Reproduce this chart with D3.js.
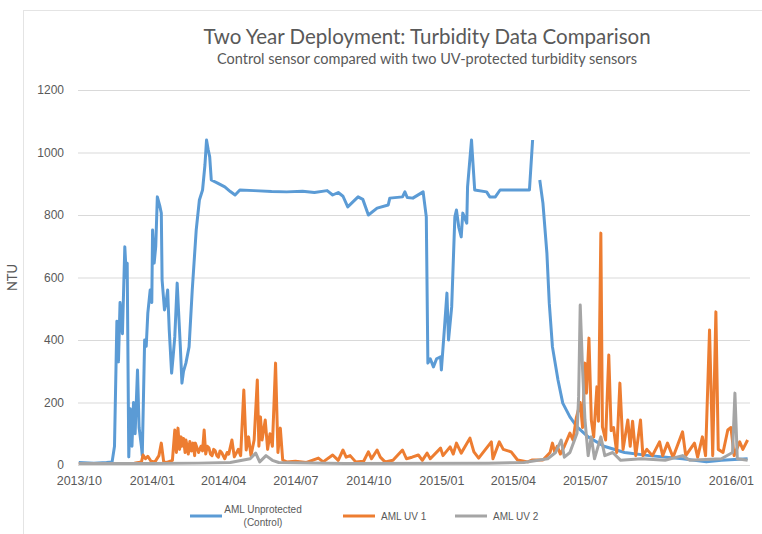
<!DOCTYPE html>
<html>
<head>
<meta charset="utf-8">
<script src="https://cdn.jsdelivr.net/npm/d3@7"></script>
<style>
  body { margin: 0; background: #fff; }
  text { fill: #595959; }
</style>
</head>
<body>
<div id="chart"></div>
<script>
const WIDTH = 762;
const HEIGHT = 534;

const yTicks = [0, 200, 400, 600, 800, 1000, 1200];
const seriesNames = ["AML Unprotected (Control)", "AML UV 1", "AML UV 2"];
const seriesColors = ["#5b9bd5", "#ed7d31", "#a5a5a5"];

// null marks the gap in the control record
const control = [
    ["2013-10-01", 8], ["2013-10-20", 6], ["2013-11-05", 8], ["2013-11-12", 10], ["2013-11-15", 60],
    ["2013-11-18", 460], ["2013-11-20", 330], ["2013-11-22", 520], ["2013-11-25", 420], ["2013-11-28", 698],
    ["2013-11-30", 600], ["2013-12-01", 646], ["2013-12-03", 26], ["2013-12-05", 180], ["2013-12-07", 60],
    ["2013-12-09", 200], ["2013-12-11", 100], ["2013-12-14", 304], ["2013-12-16", 120], ["2013-12-19", 58],
    ["2013-12-20", 30], ["2013-12-23", 400], ["2013-12-25", 380], ["2013-12-27", 486], ["2013-12-30", 560],
    ["2014-01-01", 520], ["2014-01-02", 752], ["2014-01-04", 646], ["2014-01-06", 700], ["2014-01-08", 858],
    ["2014-01-11", 830], ["2014-01-13", 806], ["2014-01-14", 592], ["2014-01-17", 496], ["2014-01-19", 520],
    ["2014-01-21", 560], ["2014-01-23", 432], ["2014-01-26", 294], ["2014-01-28", 350], ["2014-01-30", 410],
    ["2014-02-02", 582], ["2014-02-04", 480], ["2014-02-06", 378], ["2014-02-08", 262], ["2014-02-10", 300],
    ["2014-02-13", 326], ["2014-02-17", 378], ["2014-02-21", 560], ["2014-02-26", 752], ["2014-03-02", 848],
    ["2014-03-06", 880], ["2014-03-09", 960], ["2014-03-11", 1040], ["2014-03-13", 1010], ["2014-03-15", 986],
    ["2014-03-17", 912], ["2014-03-25", 902], ["2014-04-03", 890], ["2014-04-10", 875], ["2014-04-16", 864],
    ["2014-04-22", 880], ["2014-05-10", 878], ["2014-06-01", 875], ["2014-06-20", 874], ["2014-07-10", 876],
    ["2014-07-25", 872], ["2014-08-10", 878], ["2014-08-17", 864], ["2014-08-24", 872], ["2014-08-30", 860],
    ["2014-09-05", 826], ["2014-09-18", 858], ["2014-09-24", 850], ["2014-10-01", 800], ["2014-10-12", 822],
    ["2014-10-26", 832], ["2014-10-28", 854], ["2014-11-13", 858], ["2014-11-16", 874], ["2014-11-19", 856],
    ["2014-11-26", 854], ["2014-12-09", 874], ["2014-12-13", 794], ["2014-12-15", 326], ["2014-12-18", 340],
    ["2014-12-22", 314], ["2014-12-26", 340], ["2014-12-31", 346], ["2015-01-01", 304], ["2015-01-05", 442],
    ["2015-01-08", 550], ["2015-01-10", 400], ["2015-01-14", 506], ["2015-01-18", 794], ["2015-01-20", 816],
    ["2015-01-23", 760], ["2015-01-26", 730], ["2015-01-28", 806], ["2015-02-02", 774], ["2015-02-03", 890],
    ["2015-02-08", 1040], ["2015-02-09", 998], ["2015-02-12", 880], ["2015-02-27", 874], ["2015-03-03", 858],
    ["2015-03-10", 858], ["2015-03-16", 880], ["2015-04-22", 880], ["2015-04-26", 1040], ["2015-04-30", null],
    ["2015-05-05", 912], ["2015-05-09", 838], ["2015-05-14", 678], ["2015-05-17", 518], ["2015-05-21", 378],
    ["2015-05-28", 272], ["2015-06-03", 198], ["2015-06-12", 154], ["2015-06-21", 122], ["2015-07-05", 90],
    ["2015-07-25", 60], ["2015-08-20", 40], ["2015-09-20", 30], ["2015-11-01", 20], ["2015-12-01", 10],
    ["2015-12-20", 15], ["2016-01-22", 20]
];

const uv1 = [
    ["2013-10-01", 5], ["2013-11-01", 5], ["2013-12-10", 6], ["2013-12-19", 10], ["2013-12-21", 32],
    ["2013-12-24", 20], ["2013-12-27", 28], ["2013-12-31", 12], ["2014-01-05", 10], ["2014-01-10", 30],
    ["2014-01-13", 70], ["2014-01-16", 10], ["2014-01-20", 8], ["2014-01-27", 15], ["2014-01-30", 112],
    ["2014-02-01", 40], ["2014-02-03", 118], ["2014-02-05", 50], ["2014-02-07", 90], ["2014-02-08", 60],
    ["2014-02-10", 85], ["2014-02-12", 40], ["2014-02-13", 80], ["2014-02-15", 55], ["2014-02-16", 35],
    ["2014-02-18", 75], ["2014-02-20", 45], ["2014-02-22", 70], ["2014-02-24", 30], ["2014-02-25", 70],
    ["2014-03-01", 40], ["2014-03-04", 60], ["2014-03-06", 45], ["2014-03-08", 112], ["2014-03-10", 35],
    ["2014-03-12", 60], ["2014-03-14", 55], ["2014-03-16", 35], ["2014-03-18", 30], ["2014-03-20", 50],
    ["2014-03-22", 45], ["2014-03-24", 30], ["2014-03-26", 25], ["2014-03-28", 45], ["2014-03-30", 40],
    ["2014-04-03", 20], ["2014-04-06", 40], ["2014-04-08", 35], ["2014-04-12", 80], ["2014-04-15", 26],
    ["2014-04-20", 50], ["2014-04-23", 30], ["2014-04-27", 240], ["2014-04-30", 48], ["2014-05-03", 90],
    ["2014-05-06", 30], ["2014-05-10", 80], ["2014-05-14", 272], ["2014-05-16", 60], ["2014-05-18", 154],
    ["2014-05-20", 80], ["2014-05-24", 144], ["2014-05-27", 50], ["2014-05-30", 100], ["2014-06-02", 60],
    ["2014-06-06", 326], ["2014-06-09", 40], ["2014-06-12", 118], ["2014-06-15", 16], ["2014-06-20", 10],
    ["2014-07-01", 12], ["2014-07-15", 8], ["2014-07-30", 22], ["2014-08-05", 10], ["2014-08-17", 32],
    ["2014-08-24", 15], ["2014-08-30", 48], ["2014-09-03", 25], ["2014-09-08", 30], ["2014-09-15", 10],
    ["2014-09-25", 12], ["2014-10-01", 42], ["2014-10-05", 20], ["2014-10-12", 48], ["2014-10-16", 25],
    ["2014-10-22", 10], ["2014-11-01", 15], ["2014-11-13", 48], ["2014-11-18", 20], ["2014-11-25", 25],
    ["2014-12-03", 32], ["2014-12-08", 15], ["2014-12-14", 38], ["2014-12-18", 20], ["2014-12-31", 54],
    ["2015-01-03", 30], ["2015-01-12", 58], ["2015-01-16", 35], ["2015-01-20", 70], ["2015-01-26", 38],
    ["2015-02-01", 64], ["2015-02-06", 86], ["2015-02-11", 42], ["2015-02-17", 22], ["2015-03-05", 74],
    ["2015-03-07", 20], ["2015-03-15", 74], ["2015-03-20", 50], ["2015-03-30", 42], ["2015-04-07", 16],
    ["2015-04-20", 10], ["2015-04-25", 16], ["2015-05-09", 16], ["2015-05-18", 40], ["2015-05-21", 70],
    ["2015-05-24", 40], ["2015-05-27", 60], ["2015-05-31", 35], ["2015-06-05", 60], ["2015-06-12", 102],
    ["2015-06-16", 80], ["2015-06-20", 150], ["2015-06-25", 200], ["2015-06-28", 120], ["2015-07-01", 326],
    ["2015-07-03", 230], ["2015-07-06", 406], ["2015-07-09", 144], ["2015-07-12", 90], ["2015-07-16", 250],
    ["2015-07-18", 140], ["2015-07-21", 742], ["2015-07-23", 122], ["2015-07-27", 80], ["2015-07-31", 352],
    ["2015-08-03", 110], ["2015-08-06", 120], ["2015-08-10", 40], ["2015-08-14", 262], ["2015-08-18", 50],
    ["2015-08-24", 144], ["2015-08-27", 60], ["2015-08-30", 140], ["2015-09-03", 30], ["2015-09-09", 144],
    ["2015-09-12", 30], ["2015-09-17", 50], ["2015-09-24", 30], ["2015-10-03", 74], ["2015-10-07", 30],
    ["2015-10-13", 70], ["2015-10-20", 25], ["2015-11-01", 106], ["2015-11-05", 30], ["2015-11-16", 70],
    ["2015-11-20", 25], ["2015-11-26", 90], ["2015-11-30", 30], ["2015-12-05", 432], ["2015-12-09", 30],
    ["2015-12-13", 490], ["2015-12-16", 50], ["2015-12-22", 40], ["2015-12-28", 112], ["2016-01-01", 120],
    ["2016-01-05", 30], ["2016-01-12", 74], ["2016-01-16", 50], ["2016-01-22", 80]
];

const uv2 = [
    ["2013-10-01", 5], ["2014-01-01", 5], ["2014-03-01", 6], ["2014-04-10", 8], ["2014-05-05", 20],
    ["2014-05-12", 38], ["2014-05-17", 10], ["2014-05-25", 30], ["2014-06-02", 15], ["2014-06-10", 8],
    ["2014-09-01", 5], ["2015-03-01", 6], ["2015-04-15", 8], ["2015-05-15", 20], ["2015-05-25", 40],
    ["2015-06-01", 80], ["2015-06-05", 25], ["2015-06-12", 40], ["2015-06-21", 102], ["2015-06-23", 218],
    ["2015-06-25", 512], ["2015-06-28", 304], ["2015-07-01", 144], ["2015-07-05", 30], ["2015-07-09", 90],
    ["2015-07-13", 20], ["2015-07-21", 90], ["2015-07-26", 30], ["2015-08-05", 40], ["2015-08-15", 15],
    ["2015-09-10", 20], ["2015-10-10", 15], ["2015-11-01", 30], ["2015-11-10", 15], ["2015-12-20", 20],
    ["2016-01-03", 40], ["2016-01-06", 230], ["2016-01-09", 20], ["2016-01-22", 15]
];

const parse = d3.timeParse("%Y-%m-%d");
const series = [control, uv1, uv2].map((rows, i) => ({
    name: seriesNames[i],
    color: seriesColors[i],
    values: rows.map(([d, v]) => ({date: parse(d), value: v}))
}));

const margin = {left: 78, right: 12, top: 90, bottom: 69};

const svg = d3.select("#chart").append("svg")
    .attr("width", WIDTH)
    .attr("height", HEIGHT)
    .style("font-family", "Lato, 'Open Sans', sans-serif");

// chart frame
svg.append("rect")
    .attr("x", 23.5).attr("y", 10.5)
    .attr("width", WIDTH).attr("height", HEIGHT)
    .attr("fill", "none")
    .attr("stroke", "#e4e4e4");

const x = d3.scaleTime()
    .domain([parse("2013-09-30"), parse("2016-01-25")])
    .range([margin.left, WIDTH - margin.right]);

const y = d3.scaleLinear()
    .domain([0, 1200])
    .range([HEIGHT - margin.bottom, margin.top]);

// gridlines
svg.append("g").attr("class", "grid")
    .selectAll("line").data(yTicks).join("line")
    .attr("x1", margin.left).attr("x2", WIDTH - margin.right)
    .attr("y1", d => y(d) + 0.5).attr("y2", d => y(d) + 0.5)
    .attr("stroke", "#d9d9d9");

const yAxis = svg.append("g")
    .attr("transform", "translate(" + (margin.left - 14) + ",0)")
    .call(d3.axisLeft(y).tickValues(yTicks).tickFormat(d3.format("d")).tickSize(0).tickPadding(0));
yAxis.select(".domain").remove();
yAxis.selectAll("text").style("font-size", "12px").attr("fill", "#595959");

const xAxis = svg.append("g")
    .attr("transform", "translate(0," + (HEIGHT - margin.bottom) + ")")
    .call(d3.axisBottom(x)
        .ticks(d3.timeMonth.every(3))
        .tickFormat(d3.timeFormat("%Y/%m"))
        .tickSize(0)
        .tickPadding(11));
xAxis.select(".domain").remove();
xAxis.selectAll("text").style("font-size", "12.5px").attr("fill", "#595959");

svg.append("text")
    .attr("transform", "translate(17," + y(600) + ") rotate(-90)")
    .attr("text-anchor", "middle")
    .style("font-size", "13px")
    .text("NTU");

const line = d3.line()
    .defined(d => d.value !== null)
    .x(d => x(d.date))
    .y(d => y(d.value));

svg.append("g").attr("class", "lines")
    .selectAll("path").data(series).join("path")
    .attr("d", d => line(d.values))
    .attr("fill", "none")
    .attr("stroke", d => d.color)
    .attr("stroke-width", 3)
    .attr("stroke-linejoin", "round");

// titles
svg.append("text")
    .attr("x", 427).attr("y", 44)
    .attr("text-anchor", "middle")
    .style("font-size", "20.5px")
    .text("Two Year Deployment: Turbidity Data Comparison");

svg.append("text")
    .attr("x", 427).attr("y", 64)
    .attr("text-anchor", "middle")
    .style("font-size", "14.5px")
    .text("Control sensor compared with two UV-protected turbidity sensors");

// legend
const legendItems = [
    {x: 190, lines: ["AML Unprotected", "(Control)"]},
    {x: 343, lines: ["AML UV 1"]},
    {x: 455, lines: ["AML UV 2"]}
];
const legend = svg.append("g").attr("class", "legend")
    .style("font-family", "'Liberation Sans', Arial, sans-serif")
    .style("font-size", "10px");
legendItems.forEach((item, i) => {
    const g = legend.append("g").attr("transform", "translate(" + item.x + ",516)");
    g.append("line")
        .attr("x1", 0).attr("x2", 32)
        .attr("stroke", seriesColors[i])
        .attr("stroke-width", 3);
    const multi = item.lines.length > 1;
    const t = g.append("text").attr("text-anchor", multi ? "middle" : "start");
    item.lines.forEach((l, k) => {
        t.append("tspan")
            .attr("x", multi ? 73 : 38)
            .attr("y", multi ? (k === 0 ? -3 : 10) : 3.5)
            .text(l);
    });
});
</script>
</body>
</html>
